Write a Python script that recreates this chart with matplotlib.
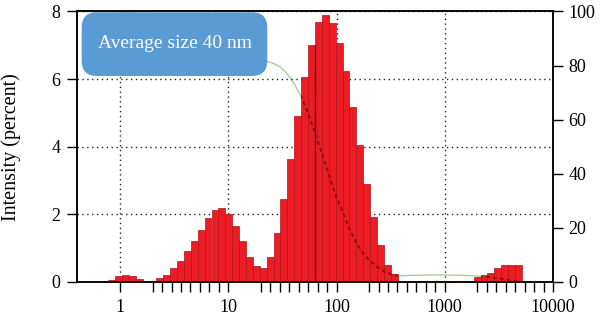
import numpy as np
import matplotlib
matplotlib.use('Agg')
import matplotlib.pyplot as plt
from matplotlib.patches import FancyBboxPatch, PathPatch
from matplotlib.path import Path
from matplotlib.ticker import FixedLocator, FixedFormatter, NullFormatter

plt.rcParams['font.family'] = ['Liberation Serif', 'DejaVu Serif']

# ---- data -------------------------------------------------------------
# size classes (nm) that carry intensity, and intensity (%) per class
size_nm = [0.8332, 0.9649, 1.117, 1.294, 1.499, 1.736,
           2.010, 2.328, 2.696, 3.122, 3.615, 4.187, 4.849, 5.615, 6.503,
           7.531, 8.721, 10.10, 11.70, 13.54, 15.69, 18.17, 21.04, 24.36,
           28.21, 32.67, 37.84, 43.82, 50.75, 58.77, 68.06, 78.82, 91.28,
           105.7, 122.4, 141.8, 164.2, 190.1, 220.2, 255.0, 295.3, 342.0,
           1718, 1990, 2305, 2669, 3091, 3580, 4145, 4801]
intensity_pct = [0.05, 0.17, 0.22, 0.18, 0.10, 0.0,
                 0.03, 0.11, 0.21, 0.40, 0.63, 0.92, 1.22, 1.54, 1.88,
                 2.13, 2.18, 2.00, 1.65, 1.20, 0.75, 0.47, 0.40, 0.75,
                 1.44, 2.45, 3.65, 4.90, 6.07, 7.02, 7.69, 7.89, 7.66,
                 7.08, 6.24, 5.18, 4.05, 2.91, 1.91, 1.09, 0.50, 0.25,
                 0.04, 0.15, 0.20, 0.28, 0.42, 0.51, 0.51, 0.51]
class_ratio = 1.158   # geometric step between neighbouring size classes

# cumulative curve (right axis, %)
cum_size_nm = [0.4, 0.774, 1.61, 2.16, 4.51, 8.10, 14.57, 22.64, 26.21,
               30.36, 35.16, 40.72, 47.16, 54.61, 63.24, 73.24, 84.82,
               98.23, 113.7, 131.7, 152.6, 176.7, 204.6, 236.9, 274.4,
               317.8, 368.0, 426, 494, 572, 662, 767, 888, 1028, 1190,
               1379, 1597, 1849, 2141, 2480, 2872, 3326, 3852, 4460, 5166]
cum_pct = [100.0, 100.0, 99.3, 99.3, 97.0, 90.2, 83.2, 81.6, 80.8,
           79.4, 76.9, 73.3, 68.4, 62.3, 55.3, 47.6, 39.7,
           32.0, 26.0, 19.5, 14.5, 10.5, 7.8, 5.5, 3.9,
           3.0, 2.3, 2.35, 2.45, 2.5, 2.55, 2.6, 2.6, 2.6, 2.55,
           2.5, 2.4, 2.3, 2.1, 1.9, 1.6, 1.2, 0.7, 0.25, 0.0]

marker_nm = 63.2
marker_pct = 7.02

x_ticks = [1, 10, 100, 1000, 10000]
x_tick_labels = ['1', '10', '100', '1000', '10000']
y_left_ticks = [0, 2, 4, 6, 8]
y_right_ticks = [0, 20, 40, 60, 80, 100]
y_label = 'Intensity (percent)'
box_text = 'Average size 40 nm'

# ---- figure -----------------------------------------------------------
fig = plt.figure(figsize=(6.0, 3.21), dpi=100)
ax = fig.add_axes([0.1283, 0.1215, 0.7933, 0.8427])
ax2 = ax.twinx()
ax.set_zorder(ax2.get_zorder() + 1)
ax.patch.set_visible(False)

ax.set_xscale('log')

s = np.array(size_nm)
h = np.array(intensity_pct)
half = np.sqrt(class_ratio)
left = s / half
right = s * half
bars = ax.bar(left, h, width=right - left, align='edge', color='#ec1c24',
              edgecolor='#b3121a', linewidth=0.5, zorder=2)

ax.vlines(marker_nm, 0, marker_pct, color='#5a0d0d', lw=1.0, zorder=2.5)

# cumulative curve: green behind bars, dark dashes where it crosses the bars
ax2.plot(cum_size_nm, cum_pct, color='#a9d18e', lw=1.0, zorder=1)
dark, = ax.plot(cum_size_nm, cum_pct, transform=ax2.transData,
                color='#3d0a0a', lw=1.4, ls=(0, (2, 1.6)), alpha=0.55, zorder=3)
outline = Path.make_compound_path(
    *[Path.unit_rectangle().transformed(b.get_patch_transform()) for b in bars])
clip_patch = PathPatch(outline, transform=ax.transData)
dark.set_clip_path(clip_patch)

ax.set_xlim(0.4, 10000)
ax.set_ylim(0, 8)
ax2.set_ylim(0, 100)

# grid
ax.set_axisbelow(True)
ax.grid(True, which='major', axis='both', ls=(0, (1, 2.5)), color='#222222', lw=1.0)

# ticks
ax.xaxis.set_major_locator(FixedLocator(x_ticks))
ax.xaxis.set_major_formatter(FixedFormatter(x_tick_labels))
l2 = np.log10(2)
minor = [10 ** (d + l2 + j * (1 - l2) / 8) for d in range(4) for j in range(8)]
ax.xaxis.set_minor_locator(FixedLocator(minor))
ax.xaxis.set_minor_formatter(NullFormatter())
ax.set_yticks(y_left_ticks)
ax2.set_yticks(y_right_ticks)

tick_kw = dict(direction='out', length=7, width=1.0, colors='black', labelsize=13)
ax.tick_params(axis='x', which='both', pad=5, **tick_kw)
ax.tick_params(axis='y', which='major', pad=5, **tick_kw)
ax2.tick_params(axis='y', which='major', pad=4, **tick_kw)
ax.tick_params(axis='y', which='minor', left=False)

for a in (ax, ax2):
    for sp in a.spines.values():
        sp.set_linewidth(1.1)
        sp.set_color('black')

ax.set_ylabel(y_label, fontsize=14.5)
ax.yaxis.set_label_coords(-0.118, 0.5)

# annotation box
box = FancyBboxPatch((0.0099, 0.7616), 0.3899, 0.2354,
                     boxstyle='round,pad=0,rounding_size=0.032',
                     mutation_aspect=476 / 270.5, transform=ax.transAxes,
                     facecolor='#5b9bd5', edgecolor='none', zorder=5)
ax.add_patch(box)
ax.text(0.205, 0.88, box_text, transform=ax.transAxes, ha='center', va='center',
        color='white', fontsize=14, zorder=6)

fig.savefig('out.png', dpi=100)
